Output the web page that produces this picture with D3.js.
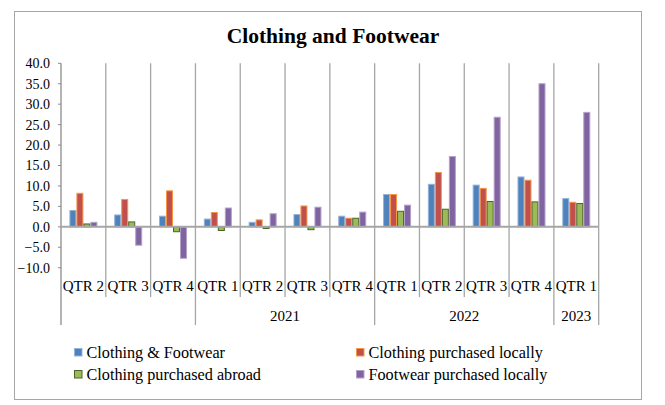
<!DOCTYPE html>
<html>
<head>
<meta charset="utf-8">
<script src="https://cdn.jsdelivr.net/npm/d3@7/dist/d3.min.js"></script>
<style>
  html, body { margin: 0; padding: 0; background: #fff; }
  svg { display: block; }
  text { font-family: "Liberation Serif", "DejaVu Serif", serif; fill: #000; }
</style>
</head>
<body>
<svg id="chart" width="665" height="405"></svg>
<script>
const quarters = ["QTR 2","QTR 3","QTR 4","QTR 1","QTR 2","QTR 3","QTR 4","QTR 1","QTR 2","QTR 3","QTR 4","QTR 1"];
const years = [
  {label: "", start: 0, end: 3},
  {label: "2021", start: 3, end: 7},
  {label: "2022", start: 7, end: 11},
  {label: "2023", start: 11, end: 12}
];
const seriesNames = ["Clothing & Footwear","Clothing purchased locally","Clothing purchased abroad","Footwear purchased locally"];
const clothingFootwear  = [4.0, 2.9, 2.6, 1.9, 1.1, 3.0, 2.6, 7.9, 10.4, 10.2, 12.2, 6.9];
const clothingLocal     = [8.2, 6.7, 8.8, 3.5, 1.7, 5.1, 2.1, 7.9, 13.3, 9.4, 11.4, 6.0];
const clothingAbroad    = [0.7, 1.2, -1.2, -0.9, -0.4, -0.7, 2.1, 3.8, 4.3, 6.2, 6.1, 5.7];
const footwearLocal     = [1.1, -4.5, -7.7, 4.6, 3.2, 4.8, 3.6, 5.3, 17.2, 26.8, 35.0, 28.0];
const yTicks = [40, 35, 30, 25, 20, 15, 10, 5, 0, -5, -10];

const seriesValues = [clothingFootwear, clothingLocal, clothingAbroad, footwearLocal];
const fills   = ["#4F81BD", "#C0504D", "#9BBB59", "#8064A2"];
const strokes = ["#95B3D7", "#F79646", "#4F6228", "#B3A2C7"];

const svg = d3.select("#chart");
const L = 61, R = 598.7, T = 63.3, B = 267.7;

// outer border
svg.append("rect").attr("x", 14.5).attr("y", 11.5).attr("width", 627).attr("height", 388)
  .attr("fill", "none").attr("stroke", "#A6A6A6").attr("stroke-width", 1);

// title
svg.append("text").attr("x", 333).attr("y", 43).attr("text-anchor", "middle")
  .style("font-size", "21.5px").style("font-weight", "bold").text("Clothing and Footwear");

const idx = d3.range(quarters.length);
const x0 = d3.scaleBand().domain(idx).range([L, R]).paddingInner(0).paddingOuter(0);
const bw = x0.bandwidth();
const barW = bw / 6.4;
const x1 = d3.scaleBand().domain(d3.range(4)).range([(bw - 4 * barW) / 2, (bw + 4 * barW) / 2]);
const y = d3.scaleLinear().domain([-10, 40]).range([B, T]);

// vertical category lines
const yearBounds = new Set();
years.forEach(g => { yearBounds.add(g.start); yearBounds.add(g.end); });
d3.range(quarters.length + 1).forEach(i => {
  const xx = L + i * bw;
  svg.append("line").attr("x1", xx).attr("x2", xx).attr("y1", T)
    .attr("y2", yearBounds.has(i) ? 325 : 297)
    .attr("stroke", i === 0 ? "#8C8C8C" : "#A6A6A6").attr("stroke-width", 1.3);
});

// y axis ticks & labels
const gy = svg.append("g");
yTicks.forEach(t => {
  gy.append("line").attr("x1", L - 3).attr("x2", L).attr("y1", y(t)).attr("y2", y(t))
    .attr("stroke", "#8C8C8C").attr("stroke-width", 1);
  gy.append("text").attr("x", 50).attr("y", y(t)).attr("dy", "0.35em").attr("text-anchor", "end")
    .style("font-size", "14px").text(d3.format(".1f")(t));
});

// bars
seriesValues.forEach((vals, s) => {
  svg.append("g").selectAll("rect").data(vals).join("rect")
    .attr("x", (d, i) => x0(i) + x1(s) + 0.5)
    .attr("width", x1.bandwidth() - 1)
    .attr("y", d => Math.min(y(d), y(0)))
    .attr("height", d => Math.abs(y(d) - y(0)))
    .attr("fill", fills[s]).attr("stroke", strokes[s]).attr("stroke-width", 1);
});

// zero line
svg.append("line").attr("x1", L).attr("x2", R).attr("y1", y(0)).attr("y2", y(0))
  .attr("stroke", "#A6A6A6").attr("stroke-width", 2);

// quarter labels
quarters.forEach((q, i) => {
  svg.append("text").attr("x", x0(i) + bw / 2).attr("y", 291).attr("text-anchor", "middle")
    .style("font-size", "15px").text(q);
});
// year labels
years.forEach(g => {
  if (!g.label) return;
  svg.append("text").attr("x", L + (g.start + g.end) / 2 * bw).attr("y", 321).attr("text-anchor", "middle")
    .style("font-size", "15px").text(g.label);
});

// legend
const legendPos = [[74, 352], [356, 352], [74, 374], [356, 374]];
seriesNames.forEach((n, s) => {
  const [lx, ly] = legendPos[s];
  svg.append("rect").attr("x", lx + 0.5).attr("y", ly - 3.5).attr("width", 7.5).attr("height", 7.5)
    .attr("fill", fills[s]).attr("stroke", strokes[s]).attr("stroke-width", 1);
  svg.append("text").attr("x", lx + 12.5).attr("y", ly).attr("dy", "0.35em")
    .style("font-size", "16.2px").text(n);
});
</script>
</body>
</html>
